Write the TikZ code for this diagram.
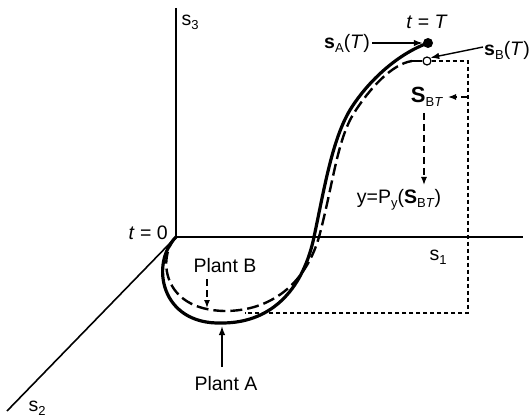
\documentclass[tikz,border=0pt]{standalone}
\usepackage{fontspec}
\setmainfont{Liberation Sans}
\usetikzlibrary{arrows.meta}
\newcommand{\sbx}[1]{\raisebox{-0.4ex}{\fontsize{13}{13}\selectfont #1}}
\begin{document}
\begin{tikzpicture}[x=1pt,y=-1pt,
  font=\fontsize{19.5}{22}\selectfont,
  axis/.style={line width=1.6pt},
  curveA/.style={line width=3.2pt},
  curveB/.style={line width=2.4pt, dash pattern=on 12pt off 5pt},
  guide/.style={line width=1.2pt, dash pattern=on 4pt off 3pt},
  darr/.style={line width=1.3pt, dash pattern=on 7pt off 4pt, -{Latex[length=8pt,width=6pt]}},
  sarr/.style={line width=1.4pt, -{Latex[length=9pt,width=6.5pt]}},
  lbl/.style={inner sep=0pt}]
\useasboundingbox (0,0) rectangle (531,420);
% axes
\coordinate (O) at (176,237);
\coordinate (s3end) at (176,8);
\coordinate (s1end) at (523,237);
\coordinate (s2end) at (7,411);
\draw[axis] (s3end) -- (O) -- (s1end);
\draw[axis] (O) -- (s2end);
% end points
\node[circle, fill=black, inner sep=0pt, minimum size=10pt] (At) at (428,43) {};
\node[circle, draw=black, fill=white, line width=1.2pt, inner sep=0pt, minimum size=8pt] (Bt) at (427,61) {};
% guide dashed lines
\coordinate (g1) at (468,61);
\coordinate (g2) at (468,313);
\coordinate (g3) at (245,313);
\draw[guide] (Bt.east) -- (g1) -- (g2) -- (g3);
% curve A
\draw[curveA] (O) .. controls (150,263) and (160,325) .. (222,323)
  .. controls (275,323) and (304,285) .. (314,237)
  .. controls (324,190) and (332,140) .. (350,110)
  .. controls (366,84) and (395,55) .. (At.center);
% curve B
\draw[curveB] (O) .. controls (158,255) and (160,310) .. (225,311)
  .. controls (270,311) and (305,285) .. (319,237)
  .. controls (333,185) and (337,140) .. (354,113)
  .. controls (370,88) and (392,64) .. (412,61);
\draw[line width=2.4pt] (412,61) -- (Bt.west);
% labels
\node[lbl] (s3) at (190,22) {s\sbx{3}};
\node[lbl] (s1) at (438,257) {s\sbx{1}};
\node[lbl] (s2) at (37,408) {s\sbx{2}};
\node[lbl, anchor=east] (t0) at (168,233) {\textit{t} = 0};
\node[lbl] (tT) at (427,22) {\textit{t} = \textit{T}};
\node[lbl, anchor=east] (sA) at (370,43) {\textbf{s}\sbx{A}(\textit{T})};
\node[lbl, anchor=east] (sB) at (530,50) {\textbf{s}\sbx{B}(\textit{T})};
\node[lbl] (SBT) at (427,97) {{\fontsize{22}{24}\selectfont\textbf{S}}\sbx{B\textit{T}}};
\node[lbl] (Py) at (399,200) {y=P\sbx{y}(\textbf{S}\sbx{B\textit{T}})};
\node[lbl] (PB) at (225,266) {Plant B};
\node[lbl] (PA) at (226,384) {Plant A};
% arrows
\coordinate (a1) at (372,43);
\draw[sarr] (a1) -- (At.west);
\coordinate (b1) at (483,47);
\draw[sarr] (b1) -- (Bt.north east);
\coordinate (h1) at (468,97);
\coordinate (h2) at (448,97);
\draw[darr] (h1) -- (h2);
\coordinate (v1) at (424,113);
\coordinate (v2) at (424,185);
\draw[darr] (v1) -- (v2);
\coordinate (pb1) at (207,279);
\coordinate (pb2) at (207,308);
\draw[darr] (pb1) -- (pb2);
\coordinate (pa1) at (222,367);
\coordinate (pa2) at (222,326);
\draw[sarr] (pa1) -- (pa2);
\end{tikzpicture}
\end{document}
